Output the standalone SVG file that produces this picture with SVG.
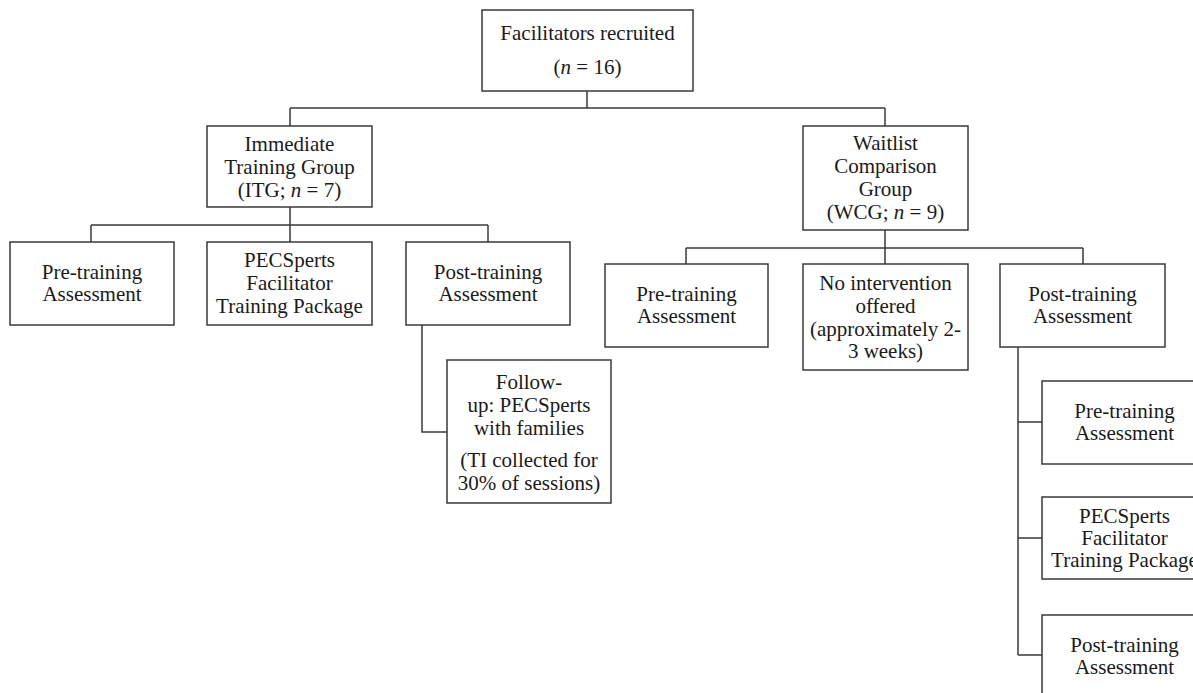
<svg xmlns="http://www.w3.org/2000/svg" width="1193" height="693" viewBox="0 0 1193 693">
<style>
.box{fill:#fff;stroke:#3a3a3a;stroke-width:1.5}
.c{fill:none;stroke:#3a3a3a;stroke-width:1.5}
.t text{font-family:'Liberation Serif',Tinos,'DejaVu Serif',serif;font-size:21px;fill:#1a1a1a;text-anchor:middle}
.i{font-style:italic}
</style>
<rect width="1193" height="693" fill="#fff"/>
<g id="connectors">
<path class="c" d="M587 91V108M290 108H885M290 108V126M885 108V126"/>
<path class="c" d="M290 207V225M91 225H488M91 225V242M290 225V242M488 225V242"/>
<path class="c" d="M422 325V432H447"/>
<path class="c" d="M885 230V248M686 248H1083M686 248V264M885 248V264M1083 248V264"/>
<path class="c" d="M1018 347V655M1018 422H1042M1018 538H1042M1018 655H1042"/>
</g>
<g class="t" font-family="Liberation Serif, serif">
<g id="n-root"><rect class="box" x="482" y="10" width="211" height="81"/>
<text x="587.5" y="40">Facilitators recruited</text>
<text x="587.5" y="74">(<tspan class="i">n</tspan> = 16)</text></g>
<g id="n-itg"><rect class="box" x="207" y="126" width="165" height="81"/>
<text x="289.5" y="151">Immediate</text>
<text x="289.5" y="174">Training Group</text>
<text x="289.5" y="197">(ITG; <tspan class="i">n</tspan> = 7)</text></g>
<g id="n-wcg"><rect class="box" x="803" y="126" width="165" height="104"/>
<text x="885.5" y="150">Waitlist</text>
<text x="885.5" y="173">Comparison</text>
<text x="885.5" y="196">Group</text>
<text x="885.5" y="219">(WCG; <tspan class="i">n</tspan> = 9)</text></g>
<g id="n-itg-pre"><rect class="box" x="10" y="242" width="164" height="83"/>
<text x="92" y="279">Pre-training</text>
<text x="92" y="301">Assessment</text></g>
<g id="n-itg-pkg"><rect class="box" x="207" y="242" width="165" height="83"/>
<text x="289.5" y="267">PECSperts</text>
<text x="289.5" y="290">Facilitator</text>
<text x="289.5" y="313">Training Package</text></g>
<g id="n-itg-post"><rect class="box" x="406" y="242" width="164" height="83"/>
<text x="488" y="279">Post-training</text>
<text x="488" y="301">Assessment</text></g>
<g id="n-followup"><rect class="box" x="447" y="360" width="164" height="143"/>
<text x="529" y="389">Follow-</text>
<text x="529" y="412">up: PECSperts</text>
<text x="529" y="435">with families</text>
<text x="529" y="467">(TI collected for</text>
<text x="529" y="490">30% of sessions)</text></g>
<g id="n-wcg-pre"><rect class="box" x="605" y="264" width="163" height="83"/>
<text x="686.5" y="301">Pre-training</text>
<text x="686.5" y="323">Assessment</text></g>
<g id="n-wcg-none"><rect class="box" x="803" y="264" width="165" height="106"/>
<text x="885.5" y="290">No intervention</text>
<text x="885.5" y="313">offered</text>
<text x="885.5" y="336">(approximately 2-</text>
<text x="885.5" y="358">3 weeks)</text></g>
<g id="n-wcg-post"><rect class="box" x="1000" y="264" width="165" height="83"/>
<text x="1082.5" y="301">Post-training</text>
<text x="1082.5" y="323">Assessment</text></g>
<g id="n-wcg-pre2"><rect class="box" x="1042" y="381" width="165" height="83"/>
<text x="1124.5" y="418">Pre-training</text>
<text x="1124.5" y="440">Assessment</text></g>
<g id="n-wcg-pkg"><rect class="box" x="1042" y="497" width="165" height="82"/>
<text x="1124.5" y="523">PECSperts</text>
<text x="1124.5" y="545">Facilitator</text>
<text x="1124.5" y="567">Training Package</text></g>
<g id="n-wcg-post2"><rect class="box" x="1042" y="615" width="165" height="83"/>
<text x="1124.5" y="652">Post-training</text>
<text x="1124.5" y="674">Assessment</text></g>
</g>
</svg>
